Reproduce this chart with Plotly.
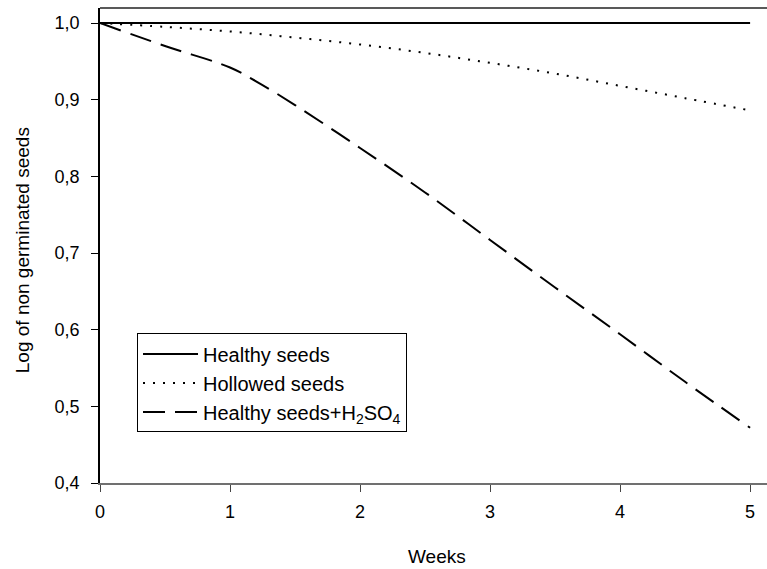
import plotly.graph_objects as go

weeks = [0, 0.5, 1.0, 1.5, 2.0, 2.5, 3.0, 3.5, 4.0, 4.5, 5.0]
healthy = [1.0, 1.0, 1.0, 1.0, 1.0, 1.0, 1.0, 1.0, 1.0, 1.0, 1.0]
hollowed = [1.0, 0.995, 0.989, 0.981, 0.972, 0.961, 0.948, 0.934, 0.918, 0.902, 0.886]
h2so4_x = [0, 0.5, 1.0, 1.2, 1.5, 2.0, 2.5, 3.0, 3.5, 4.0, 4.5, 5.0]
h2so4 = [1.0, 0.970, 0.942, 0.924, 0.893, 0.837, 0.779, 0.717, 0.655, 0.594, 0.532, 0.472]

names = ["Healthy seeds", "Hollowed seeds", "Healthy seeds+H<sub>2</sub>SO<sub>4</sub>"]
x_ticks = [0, 1, 2, 3, 4, 5]
y_ticks = [0.4, 0.5, 0.6, 0.7, 0.8, 0.9, 1.0]

FONT = "Liberation Sans, Arial, sans-serif"

fig = go.Figure()
fig.add_trace(go.Scatter(x=weeks, y=healthy, mode="lines", name=names[0],
                         line=dict(color="black", width=2, dash="solid")))
fig.add_trace(go.Scatter(x=weeks, y=hollowed, mode="lines", name=names[1],
                         line=dict(color="black", width=2, dash="2px,8px", shape="spline")))
fig.add_trace(go.Scatter(x=h2so4_x, y=h2so4, mode="lines", name=names[2],
                         line=dict(color="black", width=2, dash="22px,10px", shape="spline")))

fig.update_layout(
    width=767, height=569,
    margin=dict(l=100, r=0, t=8, b=86),
    paper_bgcolor="white", plot_bgcolor="white",
    separators=", ",
    font=dict(family=FONT, size=18, color="black"),
    showlegend=True,
    legend=dict(x=0.0555, y=0.315, xanchor="left", yanchor="top",
                bordercolor="black", borderwidth=1, bgcolor="white",
                itemwidth=55, tracegroupgap=0,
                font=dict(family=FONT, size=20, color="black")),
)
fig.update_xaxes(range=[0, 5.13], tickvals=x_ticks, ticktext=[str(v) for v in x_ticks],
                 showgrid=False, zeroline=False, showline=True, linecolor="#707070", linewidth=2,
                 ticks="outside", ticklen=7, tickcolor="#444", tickwidth=1,
                 ticklabelstandoff=4, tickfont=dict(size=18))
fig.update_yaxes(range=[0.4, 1.0196], tickvals=y_ticks, tickformat=".1f",
                 showgrid=False, zeroline=False, showline=True, linecolor="black", linewidth=1.5,
                 ticks="outside", ticklen=7, tickcolor="black", tickwidth=1,
                 ticklabelstandoff=8, tickfont=dict(size=18))
fig.add_shape(type="line", xref="paper", yref="paper", x0=0, x1=1, y0=1, y1=1,
              line=dict(color="#222", width=1.5))
fig.add_annotation(text="Weeks", xref="paper", yref="paper", x=0.505, y=-0.155,
                   xanchor="center", yanchor="middle", showarrow=False,
                   font=dict(family=FONT, size=19))
fig.add_annotation(text="Log of non germinated seeds", xref="paper", yref="paper",
                   x=-0.117, y=0.49, textangle=-90, xanchor="center", yanchor="middle",
                   showarrow=False, font=dict(family=FONT, size=19))

fig.write_html("out.html")
